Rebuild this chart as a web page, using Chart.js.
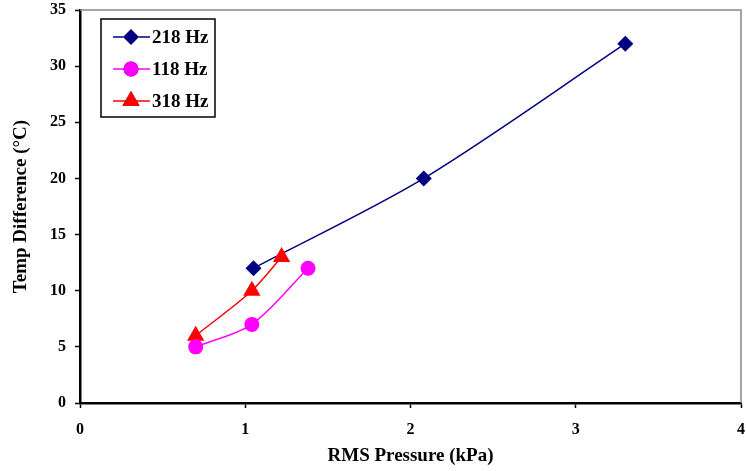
<!DOCTYPE html>
<html>
<head>
<meta charset="utf-8">
<script src="https://cdn.jsdelivr.net/npm/chart.js@4.4.0/dist/chart.umd.min.js"></script>
<style>
  html, body { margin: 0; padding: 0; background: #fff; }
  #wrap { width: 746px; height: 471px; position: relative; }
</style>
</head>
<body>
<div id="wrap"><canvas id="c"></canvas></div>
<script>
// series data
const seriesNames = ['218 Hz', '118 Hz', '318 Hz'];
const x218 = [1.05, 2.08, 3.30];
const y218 = [12, 20, 32];
const x118 = [0.70, 1.04, 1.38];
const y118 = [5, 7, 12];
const x318 = [0.70, 1.04, 1.22];
const y318 = [6, 10, 13];
const xTicks = [0, 1, 2, 3, 4];
const yTicks = [0, 5, 10, 15, 20, 25, 30, 35];

const FONT = "'Liberation Serif', 'Times New Roman', serif";
const pts = (xs, ys) => xs.map((x, i) => ({ x, y: ys[i] }));

const mkSet = (label, data, color, style, r, order) => ({
  label, data, order,
  showLine: true, tension: 0.3,
  borderColor: color, backgroundColor: color, borderWidth: 1.5,
  pointStyle: style, pointRadius: r, pointHoverRadius: r,
  pointBorderWidth: 0, pointBackgroundColor: color
});

// plot border (grey top/right) + legend box drawn inside the plot area
const frame = {
  id: 'frame',
  beforeDatasetsDraw(chart) {
    const { ctx, chartArea: a } = chart;
    ctx.save();
    ctx.strokeStyle = '#888';
    ctx.lineWidth = 1.5;
    ctx.beginPath();
    ctx.moveTo(a.left, a.top); ctx.lineTo(a.right, a.top); ctx.lineTo(a.right, a.bottom);
    ctx.stroke();
    ctx.restore();
  },
  afterDraw(chart) {
    const ctx = chart.ctx;
    ctx.save();
    ctx.fillStyle = '#fff';
    ctx.fillRect(101, 19, 114, 98);
    ctx.strokeStyle = '#000';
    ctx.lineWidth = 1.5;
    ctx.strokeRect(101, 19, 114, 98);
    const rows = [37, 69, 101];
    chart.data.datasets.forEach((ds, i) => {
      const y = rows[i];
      ctx.strokeStyle = ds.borderColor;
      ctx.lineWidth = 1.5;
      ctx.beginPath(); ctx.moveTo(113, y); ctx.lineTo(150, y); ctx.stroke();
      Chart.helpers.drawPoint(ctx, { pointStyle: ds.pointStyle, radius: ds.pointRadius, borderWidth: 0 }, 131, y);
      ctx.fillStyle = ds.borderColor;
      ctx.fill();
      ctx.fillStyle = '#000';
      ctx.font = 'bold 19px ' + FONT;
      ctx.textBaseline = 'middle';
      ctx.fillText(ds.label, 152, y + 1);
    });
    ctx.restore();
  }
};

new Chart(document.getElementById('c'), {
  type: 'scatter',
  data: {
    datasets: [
      mkSet(seriesNames[0], pts(x218, y218), '#000080', 'rectRot', 8, 2),
      mkSet(seriesNames[1], pts(x118, y118), '#FF00FF', 'circle', 7.5, 0),
      mkSet(seriesNames[2], pts(x318, y318), '#FF0000', 'triangle', 10, 1)
    ]
  },
  options: {
    responsive: true, maintainAspectRatio: false, animation: false,
    layout: { autoPadding: false, padding: { left: 0, top: 10, right: 5, bottom: 0 } },
    plugins: { legend: { display: false }, tooltip: { enabled: false } },
    scales: {
      x: {
        type: 'linear', min: 0, max: 4,
        afterBuildTicks: s => { s.ticks = xTicks.map(v => ({ value: v })); },
        afterFit: s => { s.height = 68; s.paddingLeft = 0; s.paddingRight = 0; },
        grid: { drawOnChartArea: false, color: '#000', tickLength: 5, tickWidth: 1.5 },
        border: { color: '#000', width: 2.5 },
        ticks: { color: '#000', padding: 12, font: { family: FONT, size: 16, weight: 'bold' } },
        title: { display: true, text: 'RMS Pressure (kPa)', color: '#000', padding: { top: 8 },
                 font: { family: FONT, size: 19, weight: 'bold' } }
      },
      y: {
        type: 'linear', min: 0, max: 35,
        afterBuildTicks: s => { s.ticks = yTicks.map(v => ({ value: v })); },
        afterFit: s => { s.width = 80; s.paddingTop = 0; s.paddingBottom = 0; },
        grid: { drawOnChartArea: false, color: '#000', tickLength: 5, tickWidth: 1.5 },
        border: { color: '#000', width: 2.5 },
        ticks: { color: '#000', padding: 9, font: { family: FONT, size: 16, weight: 'bold' } },
        title: { display: true, text: 'Temp Difference (°C)', color: '#000', padding: { top: 10, bottom: 0 },
                 font: { family: FONT, size: 19, weight: 'bold' } }
      }
    }
  },
  plugins: [frame]
});
</script>
</body>
</html>
